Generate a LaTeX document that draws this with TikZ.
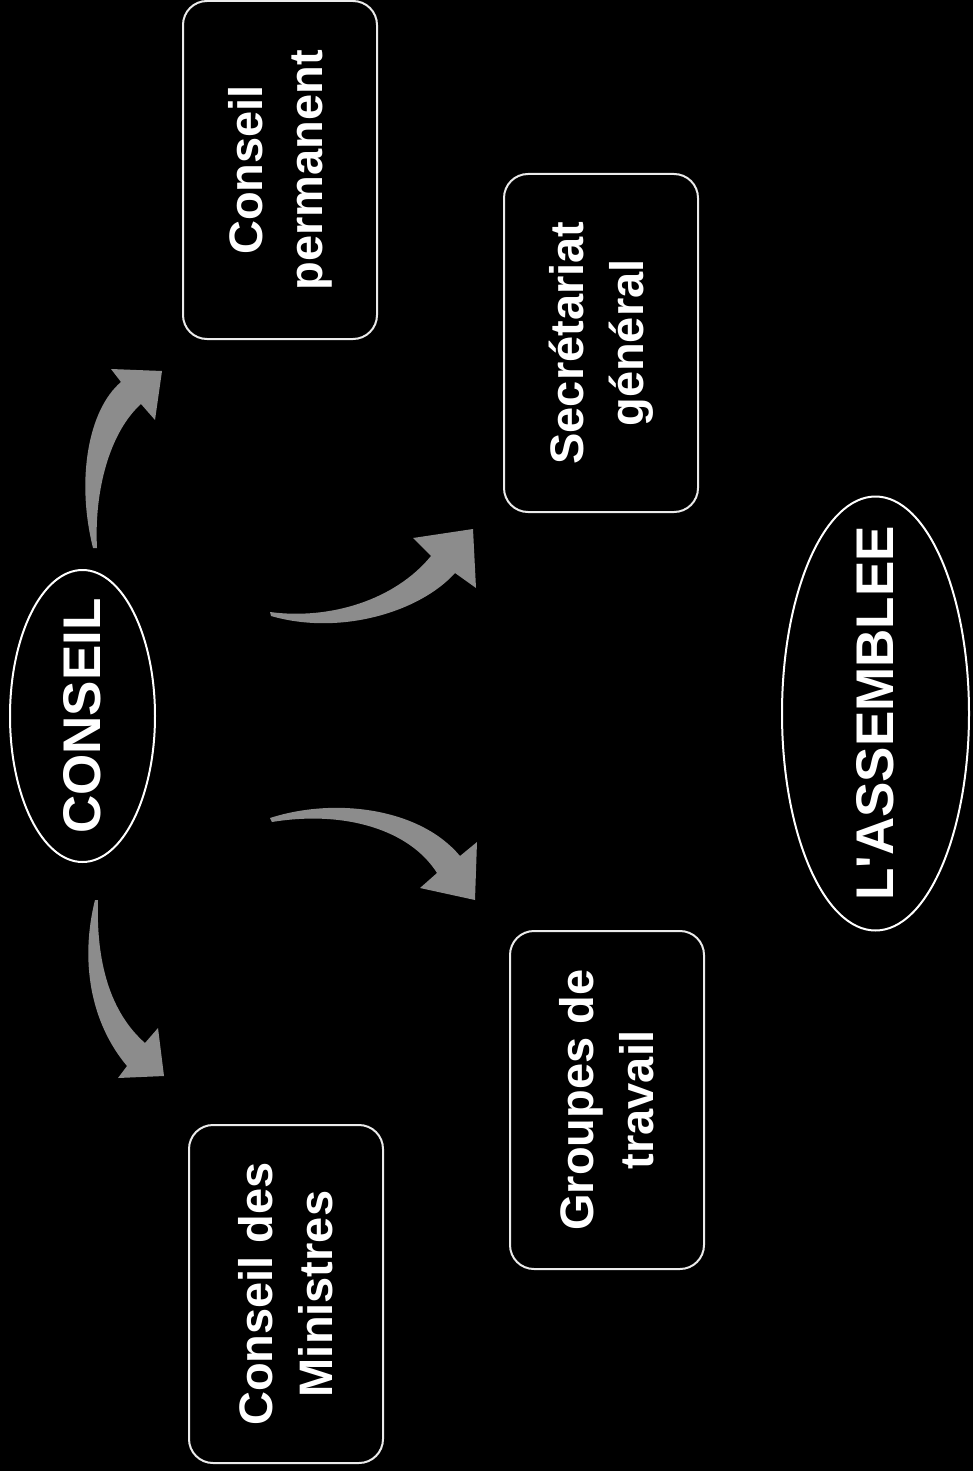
\documentclass[tikz,border=0pt]{standalone}
\usepackage{fontspec}
\setmainfont{Liberation Sans}
\usetikzlibrary{shapes.geometric}
\begin{document}
\begin{tikzpicture}[x=0.5pt,y=-0.5pt,
  box/.style={draw=white!92!black, line width=1pt, rounded corners=12pt, rotate=90,
    minimum width=169pt, minimum height=97pt, inner sep=0pt, text=white, align=center,
    font=\fontsize{23.5}{30}\selectfont\bfseries},
  oval/.style={ellipse, draw=white, line width=1pt, rotate=90, inner sep=0pt, text=white,
    font=\fontsize{26.5}{32}\selectfont\bfseries},
  arrowfill/.style={fill={rgb,255:red,140;green,140;blue,140}}]
\fill[black] (0,0) rectangle (973,1471);
\useasboundingbox (0,0) rectangle (973,1471);

% boxes
\node[box] (perm)   at (280,170)  {Conseil\\permanent};
\node[box] (secr)   at (601,343)  {Secrétariat\\général};
\node[box] (grp)    at (607,1100) {Groupes de\\travail};
\node[box] (minis)  at (286,1294) {Conseil des\\Ministres};

% ellipses
\node[oval, minimum width=146pt, minimum height=72.5pt] (conseil) at (82.5,716) {\makebox[0pt]{CONSEIL}};
\node[oval, minimum width=217pt, minimum height=93.5pt] (assemblee) at (875.5,713.5) {\makebox[0pt]{L\textquotesingle ASSEMBLEE}};

% arrow end points
\coordinate (a1t) at (93,548);   \coordinate (a1h) at (162,371);
\coordinate (a2t) at (270,612);  \coordinate (a2h) at (473,529);
\coordinate (a3t) at (270,818);  \coordinate (a3h) at (475,900);
\coordinate (a4t) at (95,900);   \coordinate (a4h) at (164,1076);

% arrows (tapered, filled)
\fill[arrowfill] (a1t) .. controls (76,480) and (88,410) .. (121,382) -- (111,369) -- (a1h)
  -- (155,420) -- (141,404) .. controls (110,432) and (94,490) .. (97,548) -- cycle;
\fill[arrowfill] (a2t) .. controls (330,620) and (395,600) .. (431,556) -- (413,538) -- (a2h)
  -- (476,588) -- (455,573) .. controls (420,612) and (340,636) .. (271,616) -- cycle;
\fill[arrowfill] (a3t) .. controls (335,797) and (420,808) .. (460,856) -- (477,842) -- (a3h)
  -- (420,888) -- (437,873) .. controls (410,830) and (345,810) .. (272,822) -- cycle;
\fill[arrowfill] (a4t) .. controls (80,960) and (90,1022) .. (127,1066) -- (118,1078) -- (a4h)
  -- (158,1028) -- (145,1043) .. controls (110,1012) and (96,962) .. (98,900) -- cycle;
\end{tikzpicture}
\end{document}
